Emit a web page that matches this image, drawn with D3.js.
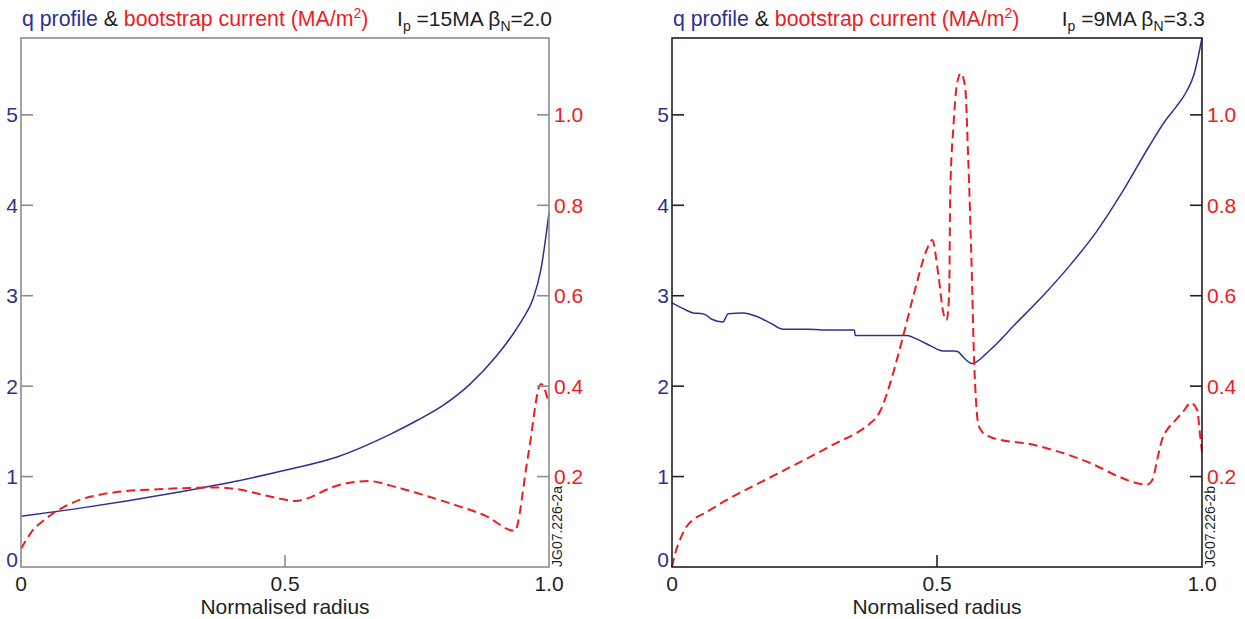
<!DOCTYPE html>
<html><head><meta charset="utf-8">
<script src="https://cdn.jsdelivr.net/npm/d3@7"></script>
<style>
body{margin:0;background:#fff}
svg{display:block}
text{font-family:"Liberation Sans",Arial,Helvetica,sans-serif}
</style>
</head><body>
<svg id="chart" width="1245" height="619"></svg>
<script>
// ---------- data ----------
const radiusTicks = [0, 0.5, 1.0];
const radiusTickLabels = ["0", "0.5", "1.0"];
const qTicks = [0, 1, 2, 3, 4, 5];
const qTickLabels = ["0", "1", "2", "3", "4", "5"];
const jTicks = [0.2, 0.4, 0.6, 0.8, 1.0];
const jTickLabels = ["0.2", "0.4", "0.6", "0.8", "1.0"];

// Panel a : Ip = 15MA, betaN = 2.0
const qA_r = [0, 0.1, 0.2, 0.3, 0.4, 0.5, 0.6, 0.7, 0.75, 0.8, 0.85, 0.9, 0.93, 0.95, 0.97, 0.985, 1.0];
const qA   = [0.56, 0.64, 0.73, 0.83, 0.94, 1.07, 1.22, 1.47, 1.62, 1.79, 2.02, 2.33, 2.56, 2.74, 2.97, 3.3, 3.92];
const jA_r = [0, 0.01, 0.025, 0.04, 0.06, 0.08, 0.11, 0.15, 0.2, 0.26, 0.32, 0.37, 0.41, 0.45, 0.49, 0.52, 0.55, 0.58, 0.62, 0.66, 0.7, 0.76, 0.82, 0.88, 0.935, 0.96, 0.985, 1.0];
const jA   = [0.04, 0.06, 0.085, 0.1, 0.118, 0.132, 0.148, 0.16, 0.168, 0.172, 0.175, 0.176, 0.172, 0.162, 0.151, 0.146, 0.155, 0.172, 0.186, 0.19, 0.18, 0.16, 0.138, 0.113, 0.08, 0.243, 0.405, 0.36];

// Panel b : Ip = 9MA, betaN = 3.3
const qB_r = [0, 0.02, 0.04, 0.058, 0.066, 0.075, 0.096, 0.106, 0.134, 0.16, 0.185, 0.209, 0.255, 0.3, 0.344, 0.346, 0.443, 0.462, 0.49, 0.511, 0.532, 0.54, 0.548, 0.566, 0.6, 0.65, 0.7, 0.75, 0.8, 0.85, 0.9, 0.93, 0.95, 0.97, 0.985, 1.0];
const qB   = [2.92, 2.86, 2.81, 2.8, 2.78, 2.74, 2.71, 2.8, 2.81, 2.77, 2.7, 2.63, 2.63, 2.62, 2.62, 2.56, 2.56, 2.52, 2.44, 2.39, 2.39, 2.38, 2.33, 2.25, 2.40, 2.7, 3.0, 3.33, 3.7, 4.15, 4.65, 4.93, 5.08, 5.25, 5.45, 5.85];
const jB_r = [0, 0.006, 0.015, 0.025, 0.04, 0.06, 0.1, 0.2, 0.3, 0.374, 0.385, 0.395, 0.41, 0.436, 0.46, 0.48, 0.491, 0.503, 0.512, 0.518, 0.523, 0.525, 0.531, 0.537, 0.545, 0.553, 0.559, 0.565, 0.570, 0.574, 0.578, 0.586, 0.6, 0.62, 0.675, 0.732, 0.789, 0.845, 0.883, 0.896, 0.907, 0.915, 0.925, 0.935, 0.948, 0.964, 0.979, 0.991, 0.996, 1.0];
const jB   = [0, 0.03, 0.06, 0.085, 0.105, 0.118, 0.146, 0.207, 0.268, 0.318, 0.33, 0.35, 0.40, 0.51, 0.62, 0.70, 0.723, 0.642, 0.562, 0.546, 0.605, 0.827, 0.974, 1.063, 1.092, 1.063, 0.90, 0.679, 0.458, 0.36, 0.315, 0.298, 0.288, 0.281, 0.272, 0.254, 0.23, 0.199, 0.184, 0.182, 0.194, 0.235, 0.283, 0.305, 0.322, 0.343, 0.363, 0.347, 0.296, 0.254];

const panelTitles = ["q profile", " & ", "bootstrap current (MA/m", "2", ")"];
const panelParams = [["15MA", "2.0"], ["9MA", "3.3"]];
const panelCodes = ["JG07.226-2a", "JG07.226-2b"];
const xAxisTitle = "Normalised radius";

// ---------- drawing ----------
const BLUE = "#2e3192", RED = "#ed1c24", INK = "#231f20";
const svg = d3.select("#chart");

const panels = [
  {x0: 21, x1: 549, axis: "#8c8c8c", q: [qA_r, qA], j: [jA_r, jA], params: panelParams[0], code: panelCodes[0]},
  {x0: 672, x1: 1202, axis: INK, q: [qB_r, qB], j: [jB_r, jB], params: panelParams[1], code: panelCodes[1]}
];
const yTop = 38, yBot = 567;
const FS = 21;

panels.forEach(p => {
  const g = svg.append("g");
  const x = d3.scaleLinear().domain([0, 1]).range([p.x0, p.x1]);
  const yq = d3.scaleLinear().domain([0, 5.85]).range([yBot, yTop]);
  const yj = d3.scaleLinear().domain([0, 1.17]).range([yBot, yTop]);

  // curves
  const qData = p.q[0].map((r, i) => [r, p.q[1][i]]);
  const jData = p.j[0].map((r, i) => [r, p.j[1][i]]);
  g.append("path").datum(qData)
    .attr("d", d3.line().x(d => x(d[0])).y(d => yq(d[1])).curve(d3.curveMonotoneX))
    .attr("fill", "none").attr("stroke", BLUE).attr("stroke-width", 1.5);
  g.append("path").datum(jData)
    .attr("d", d3.line().x(d => x(d[0])).y(d => yj(d[1])).curve(d3.curveMonotoneX))
    .attr("fill", "none").attr("stroke", RED).attr("stroke-width", 2)
    .attr("stroke-dasharray", "9,5");

  // frame
  g.append("rect").attr("x", p.x0).attr("y", yTop).attr("width", p.x1 - p.x0).attr("height", yBot - yTop)
    .attr("fill", "none").attr("stroke", p.axis).attr("stroke-width", 1.6);

  // left q ticks (inward) and labels
  qTicks.forEach((t, i) => {
    if (t > 0) g.append("line").attr("x1", p.x0).attr("x2", p.x0 + 12).attr("y1", yq(t)).attr("y2", yq(t))
      .attr("stroke", p.axis).attr("stroke-width", 1.6);
    g.append("text").attr("x", p.x0 - 3).attr("y", t === 0 ? yBot : yq(t) + 7.5)
      .attr("text-anchor", "end").attr("font-size", FS).attr("fill", BLUE).text(qTickLabels[i]);
  });
  // right j ticks (inward) and labels
  jTicks.forEach((t, i) => {
    g.append("line").attr("x1", p.x1 - 12).attr("x2", p.x1).attr("y1", yj(t)).attr("y2", yj(t))
      .attr("stroke", p.axis).attr("stroke-width", 1.6);
    g.append("text").attr("x", p.x1 + 5).attr("y", yj(t) + 7.5)
      .attr("font-size", FS).attr("fill", RED).text(jTickLabels[i]);
  });
  // x ticks
  radiusTicks.forEach((t, i) => {
    if (t > 0 && t < 1) g.append("line").attr("x1", x(t)).attr("x2", x(t)).attr("y1", yBot).attr("y2", yBot - 12)
      .attr("stroke", p.axis).attr("stroke-width", 1.6);
    g.append("text").attr("x", x(t)).attr("y", yBot + 24).attr("text-anchor", "middle")
      .attr("font-size", FS).attr("fill", INK).text(radiusTickLabels[i]);
  });
  g.append("text").attr("x", (p.x0 + p.x1) / 2).attr("y", yBot + 47).attr("text-anchor", "middle")
    .attr("font-size", FS).attr("fill", INK).text(xAxisTitle);

  // title
  const t1 = g.append("text").attr("x", p.x0 + 1).attr("y", 26).attr("font-size", 21.3);
  t1.append("tspan").attr("fill", BLUE).text(panelTitles[0]);
  t1.append("tspan").attr("fill", INK).text(panelTitles[1]);
  t1.append("tspan").attr("fill", RED).text(panelTitles[2]);
  t1.append("tspan").attr("fill", RED).attr("font-size", 14).attr("dy", -8).text(panelTitles[3]);
  t1.append("tspan").attr("fill", RED).attr("dy", 8).text(panelTitles[4]);

  const t2 = g.append("text").attr("x", p.x1 + 3).attr("y", 26).attr("font-size", 21)
    .attr("text-anchor", "end").attr("fill", INK);
  t2.append("tspan").text("I");
  t2.append("tspan").attr("font-size", 14).attr("dy", 5).text("p");
  t2.append("tspan").attr("dy", -5).text(" =" + p.params[0] + " \u03B2");
  t2.append("tspan").attr("font-size", 14).attr("dy", 5).text("N");
  t2.append("tspan").attr("dy", -5).text("=" + p.params[1]);

  // code label
  g.append("text").attr("transform", `translate(${p.x1 + 13},${yBot}) rotate(-90)`)
    .attr("font-size", 14).attr("fill", INK).text(p.code);
});
</script>
</body></html>
